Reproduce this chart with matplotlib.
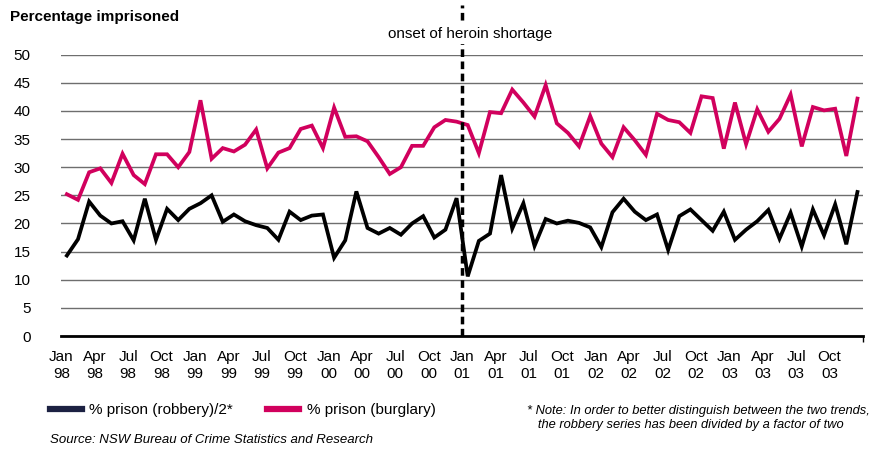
import matplotlib
matplotlib.use("Agg")
import matplotlib.pyplot as plt
from matplotlib.lines import Line2D
import numpy as np

# monthly values, Jan 1998 - Dec 2003
burglary = [25.2, 24.2, 29.1, 29.8, 27.2, 32.4, 28.6, 27.0, 32.3, 32.3, 30.0, 32.7,
            41.9, 31.5, 33.4, 32.8, 34.0, 36.7, 29.8, 32.6, 33.4, 36.8, 37.4, 33.4,
            40.6, 35.4, 35.5, 34.6, 31.8, 28.8, 30.0, 33.8, 33.8, 37.1, 38.4, 38.1,
            37.5, 32.5, 39.8, 39.6, 43.8, 41.5, 39.0, 44.6, 37.8, 36.1, 33.7, 39.1,
            34.2, 31.8, 37.1, 34.8, 32.2, 39.5, 38.4, 38.0, 36.1, 42.6, 42.3, 33.3,
            41.5, 34.1, 40.3, 36.3, 38.6, 42.9, 33.7, 40.7, 40.1, 40.4, 32.0, 42.2]
robbery_half = [14.3, 17.2, 23.9, 21.4, 20.0, 20.4, 17.0, 24.4, 17.1, 22.6, 20.6, 22.6,
                23.6, 25.0, 20.3, 21.6, 20.4, 19.7, 19.2, 17.1, 22.1, 20.6, 21.4, 21.6,
                13.9, 17.0, 25.7, 19.2, 18.2, 19.2, 18.0, 20.0, 21.3, 17.5, 18.9, 24.5,
                10.6, 16.9, 18.2, 28.6, 19.1, 23.6, 16.0, 20.8, 20.0, 20.5, 20.1, 19.3,
                15.8, 22.0, 24.4, 22.1, 20.6, 21.6, 15.3, 21.3, 22.5, 20.6, 18.7, 22.1,
                17.1, 18.9, 20.4, 22.4, 17.3, 21.9, 15.9, 22.5, 17.9, 23.4, 16.3, 25.6]
tick_labels = ["Jan\n98", "Apr\n98", "Jul\n98", "Oct\n98", "Jan\n99", "Apr\n99", "Jul\n99", "Oct\n99",
               "Jan\n00", "Apr\n00", "Jul\n00", "Oct\n00", "Jan\n01", "Apr\n01", "Jul\n01", "Oct\n01",
               "Jan\n02", "Apr\n02", "Jul\n02", "Oct\n02", "Jan\n03", "Apr\n03", "Jul\n03", "Oct\n03"]
onset_month = 36  # boundary before Jan 01

plt.rcParams["font.family"] = ["Liberation Sans", "DejaVu Sans"]

BURG = "#d1005d"
ROB = "#000000"
ROB_LEG = "#1c2142"

fig = plt.figure(figsize=(8.81, 4.5), dpi=100)
ax = fig.add_axes([61.3 / 881, 1 - 336 / 450, (863 - 61.3) / 881, (336 - 54.7) / 450])

x = np.arange(len(burglary)) + 0.5
ax.plot(x, robbery_half, color=ROB, lw=2.7, solid_joinstyle="miter", zorder=3)
ax.plot(x, burglary, color=BURG, lw=2.7, solid_joinstyle="miter", zorder=3)

ax.set_xlim(0, len(burglary))
ax.set_ylim(0, 50)
ax.set_yticks(np.arange(0, 51, 5))
ax.yaxis.grid(True, color="#6e6e6e", lw=1.0)
ax.set_axisbelow(True)
ax.tick_params(axis="y", length=0, pad=22, labelsize=11)
ax.set_xticks(np.arange(0, len(burglary) + 1, 3), minor=True)
ax.set_xticks(np.arange(0, len(burglary), 3))
ax.set_xticklabels(tick_labels, fontsize=11, linespacing=1.25)
ax.tick_params(axis="x", which="major", length=0, pad=10)
ax.tick_params(axis="x", which="minor", length=4, width=1, color="black")
for s in ["top", "right", "left"]:
    ax.spines[s].set_visible(False)
ax.spines["bottom"].set_linewidth(2)

# onset marker
ax.axvline(onset_month, ymin=0, ymax=1.175, color="black", lw=2.5,
           ls=(0, (2.2, 1.3)), clip_on=False, zorder=4)
fig.text(470 / 881, 1 - 34 / 450, "onset of heroin shortage", fontsize=11,
         ha="center", va="center", zorder=5,
         bbox=dict(facecolor="white", edgecolor="none", pad=2))

fig.text(10 / 881, 1 - 17 / 450, "Percentage imprisoned", fontsize=11, fontweight="bold",
         ha="left", va="center")

handles = [Line2D([], [], color=ROB_LEG, lw=4.5), Line2D([], [], color=BURG, lw=4.5)]
fig.legend(handles, ["% prison (robbery)/2*", "% prison (burglary)"], loc="center left",
           bbox_to_anchor=(36 / 881, 1 - 410 / 450), ncol=2, frameon=False,
           handlelength=2.1, handletextpad=0.5, columnspacing=2.2,
           prop=dict(size=11))

fig.text(527 / 881, 1 - 418 / 450,
         "* Note: In order to better distinguish between the two trends,\n"
         "   the robbery series has been divided by a factor of two",
         style="italic", fontsize=9.3, ha="left", va="center", linespacing=1.2)
fig.text(50 / 881, 1 - 440 / 450, "Source: NSW Bureau of Crime Statistics and Research",
         style="italic", fontsize=9.5, ha="left", va="center")

fig.savefig("out.png", dpi=100)
